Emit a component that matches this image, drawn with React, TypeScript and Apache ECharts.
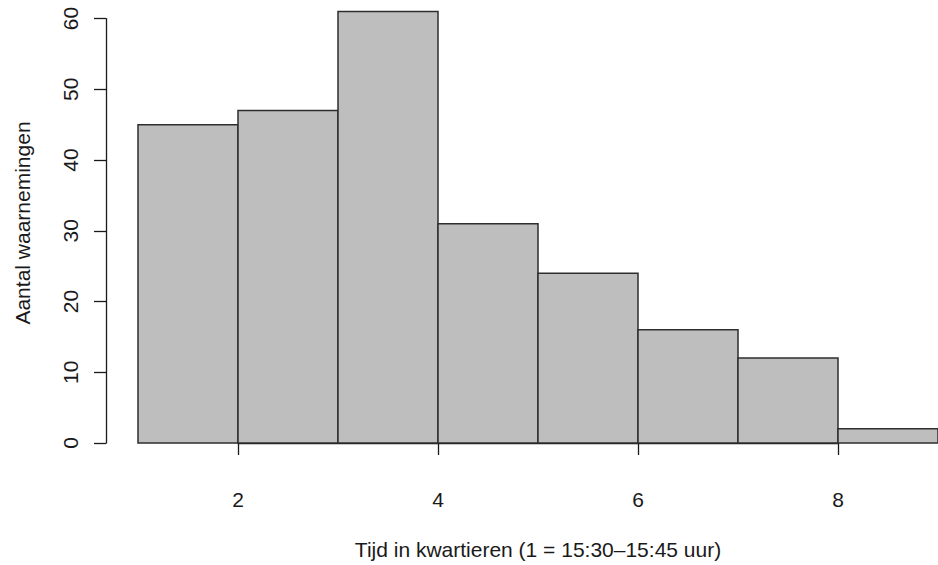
import React, { useEffect, useRef } from "react";
import * as echarts from "echarts";

const binStarts = [1, 2, 3, 4, 5, 6, 7, 8];
const binEnds = [2, 3, 4, 5, 6, 7, 8, 9];
const counts = [45, 47, 61, 31, 24, 16, 12, 2];
const xTitle = "Tijd in kwartieren (1 = 15:30\u201315:45 uur)";
const yTitle = "Aantal waarnemingen";

const FONT = "'Liberation Sans', Arial, Helvetica, sans-serif";
const INK = "#1a1a1a";

export default function App() {
  const ref = useRef<HTMLDivElement>(null);
  useEffect(() => {
    if (!ref.current) return;
    const chart = echarts.init(ref.current, null, { renderer: "svg" });
    const data = binStarts.map((s, i) => [s, binEnds[i], counts[i]]);
    chart.setOption({
      animation: false,
      backgroundColor: "#ffffff",
      textStyle: { fontFamily: FONT },
      grid: [
        { left: 138, right: -2, top: 18.6, bottom: 122 },
        { left: 238, right: 100, top: 18.6, bottom: 122 },
      ],
      xAxis: [
        { type: "value", gridIndex: 0, min: 1, max: 9, show: false },
        {
          type: "value",
          gridIndex: 1,
          min: 2,
          max: 8,
          interval: 2,
          offset: 18.5,
          axisLine: { show: true, lineStyle: { color: INK, width: 1.3 } },
          axisTick: { show: true, length: 12, lineStyle: { color: INK, width: 1.3 } },
          axisLabel: { fontSize: 21, color: INK, margin: 27, fontFamily: FONT },
          splitLine: { show: false },
        },
      ],
      yAxis: [
        {
          type: "value",
          gridIndex: 0,
          min: 0,
          max: 60,
          interval: 10,
          offset: 32,
          axisLine: { show: true, lineStyle: { color: INK, width: 1.3 } },
          axisTick: { show: true, length: 12, lineStyle: { color: INK, width: 1.3 } },
          axisLabel: { fontSize: 21, color: INK, margin: 25, rotate: 90, fontFamily: FONT },
          splitLine: { show: false },
        },
        { type: "value", gridIndex: 1, min: 0, max: 60, show: false },
      ],
      graphic: [
        {
          type: "text",
          x: 538,
          y: 549,
          style: {
            text: xTitle,
            fontSize: 21,
            fontFamily: FONT,
            fill: INK,
            align: "center",
            verticalAlign: "middle",
          },
        },
        {
          type: "text",
          x: 22,
          y: 223,
          rotation: Math.PI / 2,
          style: {
            text: yTitle,
            fontSize: 21,
            fontFamily: FONT,
            fill: INK,
            align: "center",
            verticalAlign: "middle",
          },
        },
      ],
      series: [
        {
          type: "custom",
          xAxisIndex: 0,
          yAxisIndex: 0,
          clip: false,
          data,
          encode: { x: [0, 1], y: 2 },
          renderItem: (params: any, api: any) => {
            const p0 = api.coord([api.value(0), api.value(2)]);
            const p1 = api.coord([api.value(1), 0]);
            return {
              type: "rect",
              shape: { x: p0[0], y: p0[1], width: p1[0] - p0[0], height: p1[1] - p0[1] },
              style: { fill: "#bebebe", stroke: "#2e2e2e", lineWidth: 1.5 },
            };
          },
        },
      ],
    });
    return () => chart.dispose();
  }, []);
  return (
    <div
      ref={ref}
      style={{ position: "absolute", left: 0, top: 0, width: 938, height: 565 }}
    />
  );
}
